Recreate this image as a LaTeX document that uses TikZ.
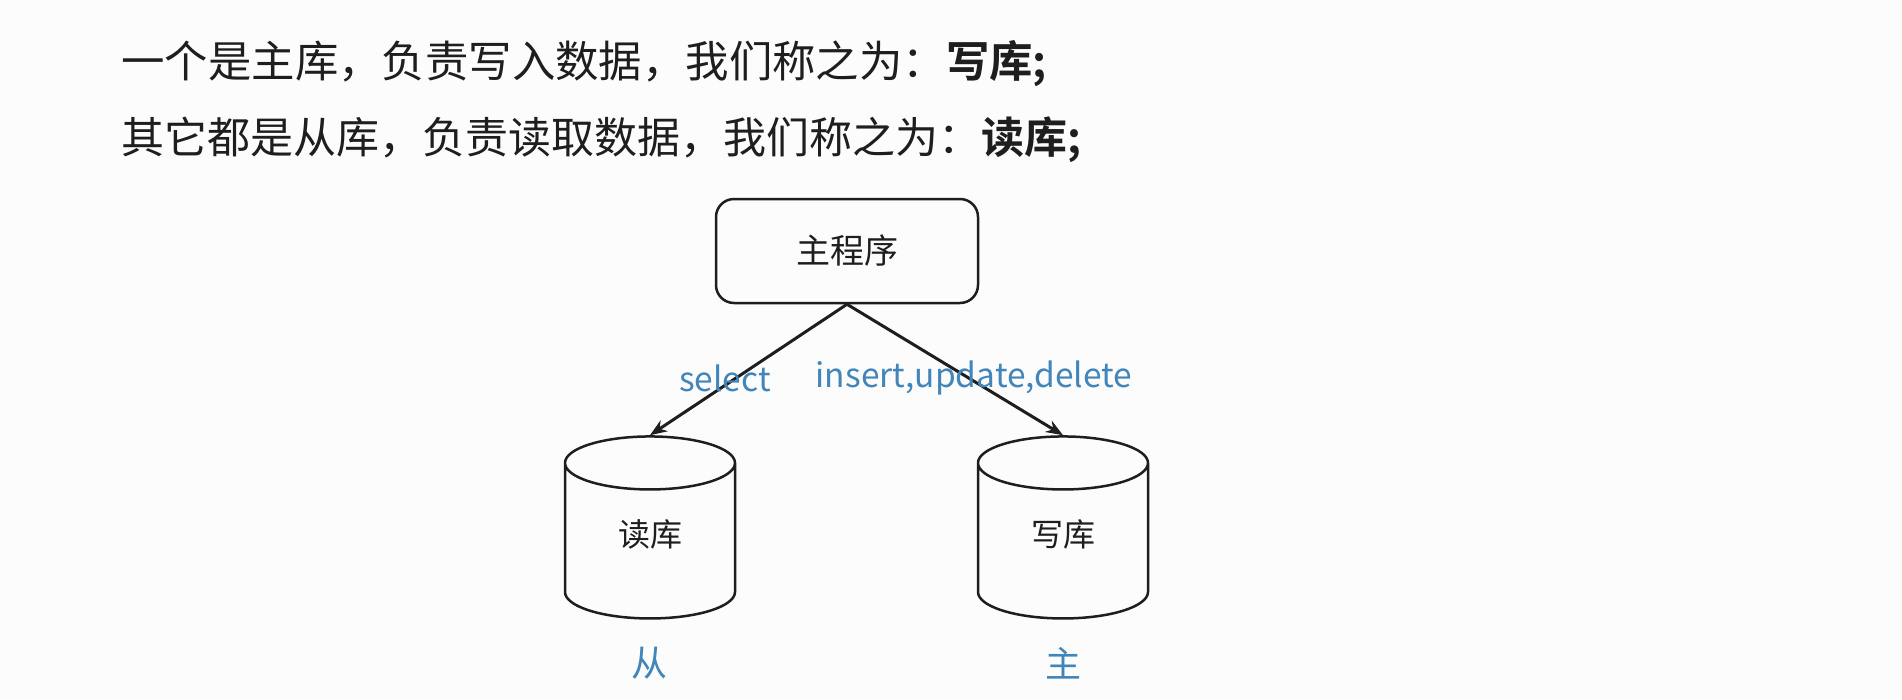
\documentclass[tikz,border=0pt]{standalone}
\usepackage{fontspec}
\setmainfont{Noto Sans CJK SC}[BoldFont={Noto Sans CJK SC Bold}]
\usetikzlibrary{shapes.geometric,arrows.meta,positioning}

\definecolor{bgpaper}{RGB}{252,252,252}
\definecolor{inktext}{RGB}{30,30,30}
\definecolor{labelblue}{RGB}{66,133,186}

\tikzset{
  progbox/.style={draw=inktext,line width=2.5pt,rounded corners=18pt,
    minimum width=262pt,minimum height=104pt,font=\fontsize{34}{40}\selectfont},
  dbcyl/.style={draw=inktext,line width=2.5pt,cylinder,shape border rotate=90,
    aspect=0.75,minimum width=170pt,minimum height=182pt,
    font=\fontsize{32}{38}\selectfont},
  dbname/.style={font=\fontsize{32}{38}\selectfont},
  sqlnote/.style={text=labelblue,font=\fontsize{33.5}{40}\selectfont},
  rolenote/.style={text=labelblue,font=\fontsize{36}{40}\selectfont},
  query/.style={draw=inktext,line width=3pt,-{Stealth[length=17pt,width=13pt]}}
}

\begin{document}
\begin{tikzpicture}[x=1pt,y=-1pt,inktext]
  \fill[bgpaper] (0,0) rectangle (1902,699);
  \useasboundingbox (0,0) rectangle (1902,699);

  \node[anchor=base west,font=\fontsize{43.4}{50}\selectfont] (line1) at (118,77)
    {一个是主库，负责写入数据，我们称之为：\textbf{写库;}};
  \node[anchor=base west,font=\fontsize{43}{50}\selectfont] (line2) at (118,153)
    {其它都是从库，负责读取数据，我们称之为：\textbf{读库;}};

  \node[progbox] (prog) at (847,251) {主程序};
  % cylinders keep the text size for their end ellipses, names sit a bit higher
  \node[dbcyl] (dbread) at (650,545) {\phantom{读库}};
  \node[dbcyl] (dbwrite) at (1063,545) {\phantom{写库}};
  \node[dbname] (readname) at (650,534) {读库};
  \node[dbname] (writename) at (1063,534) {写库};

  \draw[query] (prog.south) -- (dbread.north);
  \draw[query] (prog.south) -- (dbwrite.north);

  \node[sqlnote] (selnote) at (725,378) {select};
  \node[sqlnote] (iudnote) at (974,378) {insert,update,delete};

  \node[rolenote] (slave) at (649,663) {从};
  \node[rolenote] (master) at (1063,663) {主};
\end{tikzpicture}
\end{document}
